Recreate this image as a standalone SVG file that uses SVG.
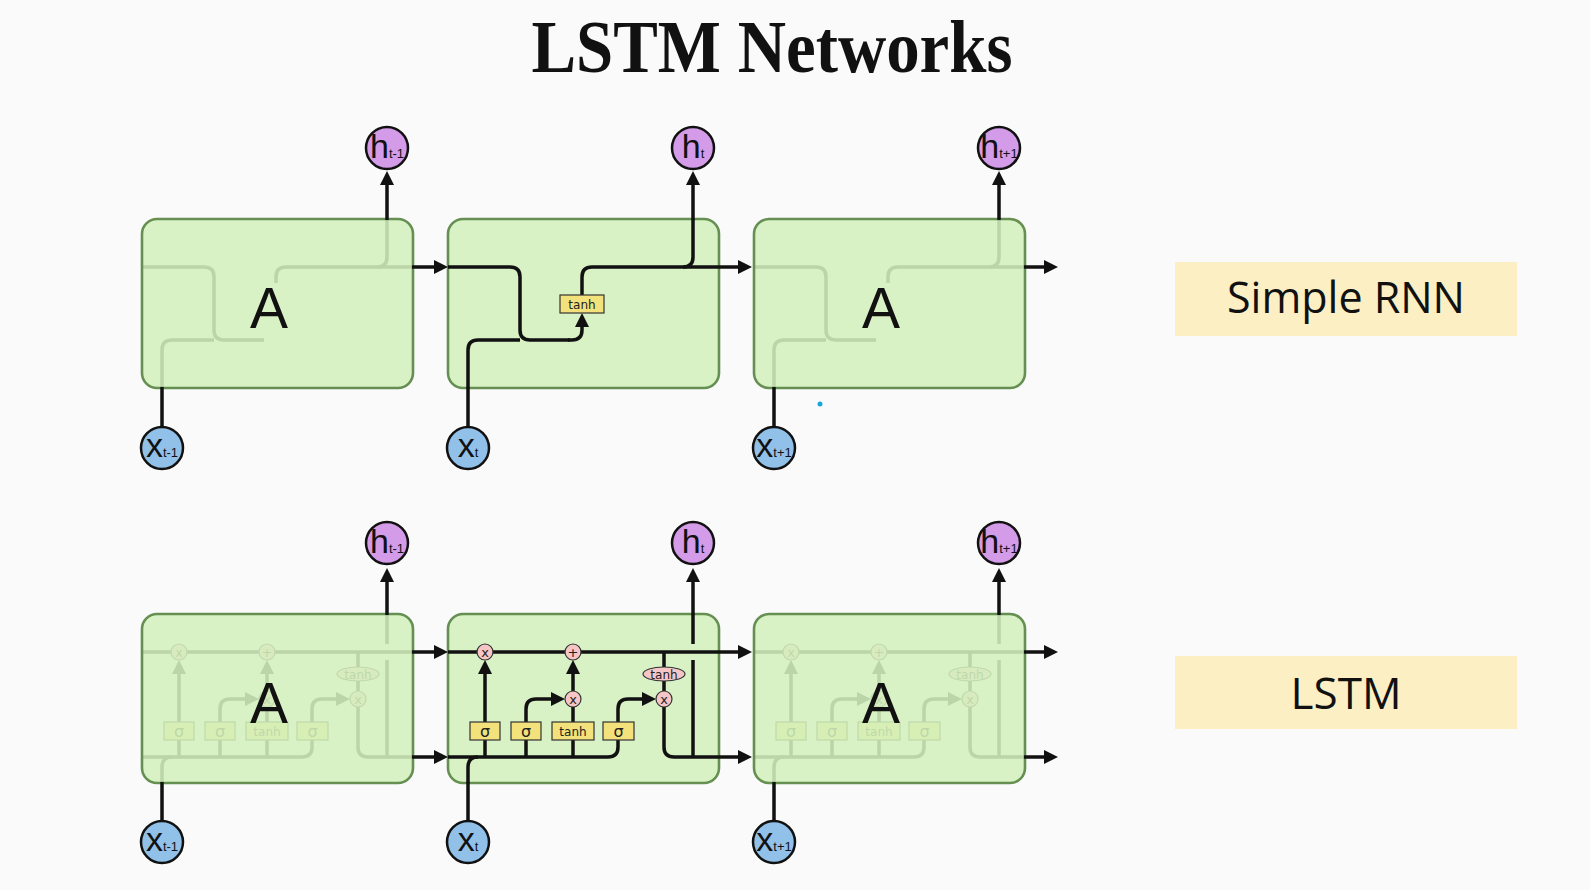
<svg xmlns="http://www.w3.org/2000/svg" xmlns:xlink="http://www.w3.org/1999/xlink" width="1590" height="890" viewBox="0 0 1590 890">
<style>
.ln{fill:none;stroke:#111;stroke-width:3.5}
.arr{marker-end:url(#ah)}
.cell{fill:#d3f0bd;fill-opacity:0.88;stroke:#668f52;stroke-width:2.6}
.ybox{fill:#f3e27c;stroke:#333;stroke-width:1.2}
.pink{fill:#f6c6c6;stroke:#333;stroke-width:1.2}
.gt{font-family:"DejaVu Sans","Liberation Sans",sans-serif;font-size:16px;text-anchor:middle;fill:#222}
.tb{font-family:"DejaVu Sans","Liberation Sans",sans-serif;font-size:12px;text-anchor:middle;fill:#222}
.op{font-family:"DejaVu Sans","Liberation Sans",sans-serif;font-size:13px;text-anchor:middle;fill:#222}
.bigA{font-family:"Liberation Sans",Arial,sans-serif;font-size:57px;text-anchor:middle;fill:#111}
.hc{fill:#d39be8;stroke:#111;stroke-width:2.5}
.xc{fill:#91c0e8;stroke:#111;stroke-width:2.5}
.vl{font-family:"Liberation Sans",Arial,sans-serif;font-size:34px;text-anchor:middle;fill:#111}
.sub{font-size:13px}
.lab{fill:#fbefc3}
.labt{font-family:"Open Sans","Noto Sans",sans-serif;text-anchor:middle;fill:#111}
</style>
<defs>
<marker id="ah" markerUnits="userSpaceOnUse" markerWidth="14" markerHeight="14" refX="6" refY="7" orient="auto" viewBox="0 0 14 14">
<path d="M0,0 L14,7 L0,14 z" fill="#111"/>
</marker>
<g id="rnnBase">
<path class="ln" d="M448,267 H510 Q520,267 520,277 V330 Q520,340 530,340 H570"/>
<path class="ln" d="M468,388 V350 Q468,340 478,340 H520"/>
<path class="ln" d="M582,283 V277 Q582,267 592,267 H718"/>
<path class="ln" d="M683,267 Q693,267 693,257 V219"/>
</g>
<g id="lstmIn">
<path class="ln" d="M448,652 H718"/>
<path class="ln" d="M448,757 H608 Q618,757 618,747 V740"/>
<path class="ln" d="M468,783 V767 Q468,757 478,757"/>
<path class="ln" d="M485,757 V740 M526,757 V740 M573,757 V740"/>
<path class="ln arr" d="M485,722 V668"/>
<path class="ln arr" d="M526,722 V709 Q526,699 536,699 H557"/>
<path class="ln" d="M573,722 V707"/>
<path class="ln arr" d="M573,691 V668"/>
<path class="ln arr" d="M618,722 V709 Q618,699 628,699 H648"/>
<path class="ln" d="M664,652 V667 M664,681 V691"/>
<path class="ln" d="M664,707 V747 Q664,757 674,757 H718"/>
<path class="ln" d="M693,757 V660 M693,644 V614"/>
<circle class="pink" cx="485" cy="652" r="8"/>
<text class="op" x="485" y="656.5">x</text>
<circle class="pink" cx="573" cy="652" r="8"/>
<text class="op" x="573" y="657">+</text>
<circle class="pink" cx="573" cy="699" r="8"/>
<text class="op" x="573" y="703.5">x</text>
<ellipse class="pink" cx="664" cy="674" rx="21" ry="7"/>
<text class="tb" x="664" y="678.5">tanh</text>
<circle class="pink" cx="664" cy="699" r="8"/>
<text class="op" x="664" y="703.5">x</text>
<rect class="ybox" x="470" y="722" width="30" height="18"/>
<text class="gt" x="485" y="736.5">σ</text>
<rect class="ybox" x="511" y="722" width="30" height="18"/>
<text class="gt" x="526" y="736.5">σ</text>
<rect class="ybox" x="552" y="722" width="42" height="18"/>
<text class="tb" x="573" y="735.5">tanh</text>
<rect class="ybox" x="603" y="722" width="31" height="18"/>
<text class="gt" x="618.5" y="736.5">σ</text>
</g>
</defs>
<rect x="0" y="0" width="1590" height="890" fill="#fafafa"/>
<text x="772" y="72" font-family="'Liberation Serif','Times New Roman',serif" font-weight="bold" font-size="73" text-anchor="middle" fill="#111" textLength="481" lengthAdjust="spacingAndGlyphs">LSTM Networks</text>

<g id="rnn-cell-1">
<use xlink:href="#rnnBase" href="#rnnBase" transform="translate(-306,0)"/>
<rect class="cell" x="142" y="219" width="271" height="169" rx="15"/>
<text class="bigA" x="269" y="328">A</text>
</g>
<g id="rnn-cell-3">
<use xlink:href="#rnnBase" href="#rnnBase" transform="translate(306,0)"/>
<rect class="cell" x="754" y="219" width="271" height="169" rx="15"/>
<text class="bigA" x="881" y="328">A</text>
</g>
<g id="rnn-cell-2">
<rect class="cell" x="448" y="219" width="271" height="169" rx="15"/>
<use xlink:href="#rnnBase" href="#rnnBase"/>
<path class="ln arr" d="M568,340 H572 Q582,340 582,330 V321"/>
<path class="ln" d="M582,295 V283"/>
<rect class="ybox" x="560" y="295" width="44" height="18"/>
<text class="tb" x="582" y="308.5">tanh</text>
</g>

<g id="lstm-cell-1">
<use xlink:href="#lstmIn" href="#lstmIn" transform="translate(-306,0)"/>
<rect class="cell" x="142" y="614" width="271" height="169" rx="15"/>
<text class="bigA" x="269" y="723">A</text>
</g>
<g id="lstm-cell-3">
<use xlink:href="#lstmIn" href="#lstmIn" transform="translate(306,0)"/>
<rect class="cell" x="754" y="614" width="271" height="169" rx="15"/>
<text class="bigA" x="881" y="723">A</text>
</g>
<g id="lstm-cell-2">
<rect class="cell" x="448" y="614" width="271" height="169" rx="15"/>
<use xlink:href="#lstmIn" href="#lstmIn"/>
</g>

<g id="connectors">
<path class="ln" d="M162,427 V387 M468,427 V387 M774,427 V387"/>
<path class="ln arr" d="M412,267 H440"/>
<path class="ln arr" d="M718,267 H744"/>
<path class="ln arr" d="M1024,267 H1050"/>
<path class="ln arr" d="M387,220 V179"/>
<path class="ln arr" d="M693,220 V179"/>
<path class="ln arr" d="M999,220 V179"/>
<path class="ln" d="M162,821 V782 M468,821 V782 M774,821 V782"/>
<path class="ln arr" d="M412,652 H440"/>
<path class="ln arr" d="M412,757 H440"/>
<path class="ln arr" d="M718,652 H744"/>
<path class="ln arr" d="M718,757 H744"/>
<path class="ln arr" d="M1024,652 H1050"/>
<path class="ln arr" d="M1024,757 H1050"/>
<path class="ln arr" d="M387,615 V576"/>
<path class="ln arr" d="M693,615 V576"/>
<path class="ln arr" d="M999,615 V576"/>
</g>

<g id="h-t-1-top"><circle class="hc" cx="387" cy="148" r="21"/><text class="vl" x="387" y="158">h<tspan class="sub">t-1</tspan></text></g>
<g id="h-t-top"><circle class="hc" cx="693" cy="148" r="21"/><text class="vl" x="693" y="158">h<tspan class="sub">t</tspan></text></g>
<g id="h-t+1-top"><circle class="hc" cx="999" cy="148" r="21"/><text class="vl" x="999" y="158">h<tspan class="sub">t+1</tspan></text></g>
<g id="x-t-1-top"><circle class="xc" cx="162" cy="448" r="21"/><text class="vl" x="162" y="457">x<tspan class="sub">t-1</tspan></text></g>
<g id="x-t-top"><circle class="xc" cx="468" cy="448" r="21"/><text class="vl" x="468" y="457">x<tspan class="sub">t</tspan></text></g>
<g id="x-t+1-top"><circle class="xc" cx="774" cy="448" r="21"/><text class="vl" x="774" y="457">x<tspan class="sub">t+1</tspan></text></g>

<g id="h-t-1-bot"><circle class="hc" cx="387" cy="543" r="21"/><text class="vl" x="387" y="553">h<tspan class="sub">t-1</tspan></text></g>
<g id="h-t-bot"><circle class="hc" cx="693" cy="543" r="21"/><text class="vl" x="693" y="553">h<tspan class="sub">t</tspan></text></g>
<g id="h-t+1-bot"><circle class="hc" cx="999" cy="543" r="21"/><text class="vl" x="999" y="553">h<tspan class="sub">t+1</tspan></text></g>
<g id="x-t-1-bot"><circle class="xc" cx="162" cy="842" r="21"/><text class="vl" x="162" y="851">x<tspan class="sub">t-1</tspan></text></g>
<g id="x-t-bot"><circle class="xc" cx="468" cy="842" r="21"/><text class="vl" x="468" y="851">x<tspan class="sub">t</tspan></text></g>
<g id="x-t+1-bot"><circle class="xc" cx="774" cy="842" r="21"/><text class="vl" x="774" y="851">x<tspan class="sub">t+1</tspan></text></g>

<g id="label-rnn">
<rect class="lab" x="1175" y="262" width="342" height="74"/>
<text class="labt" x="1346" y="313" font-size="43">Simple RNN</text>
</g>
<g id="label-lstm">
<rect class="lab" x="1175" y="656" width="342" height="73"/>
<text class="labt" x="1346" y="709" font-size="44">LSTM</text>
</g>
<circle cx="820" cy="404" r="2.5" fill="#19a6dc"/>
</svg>
